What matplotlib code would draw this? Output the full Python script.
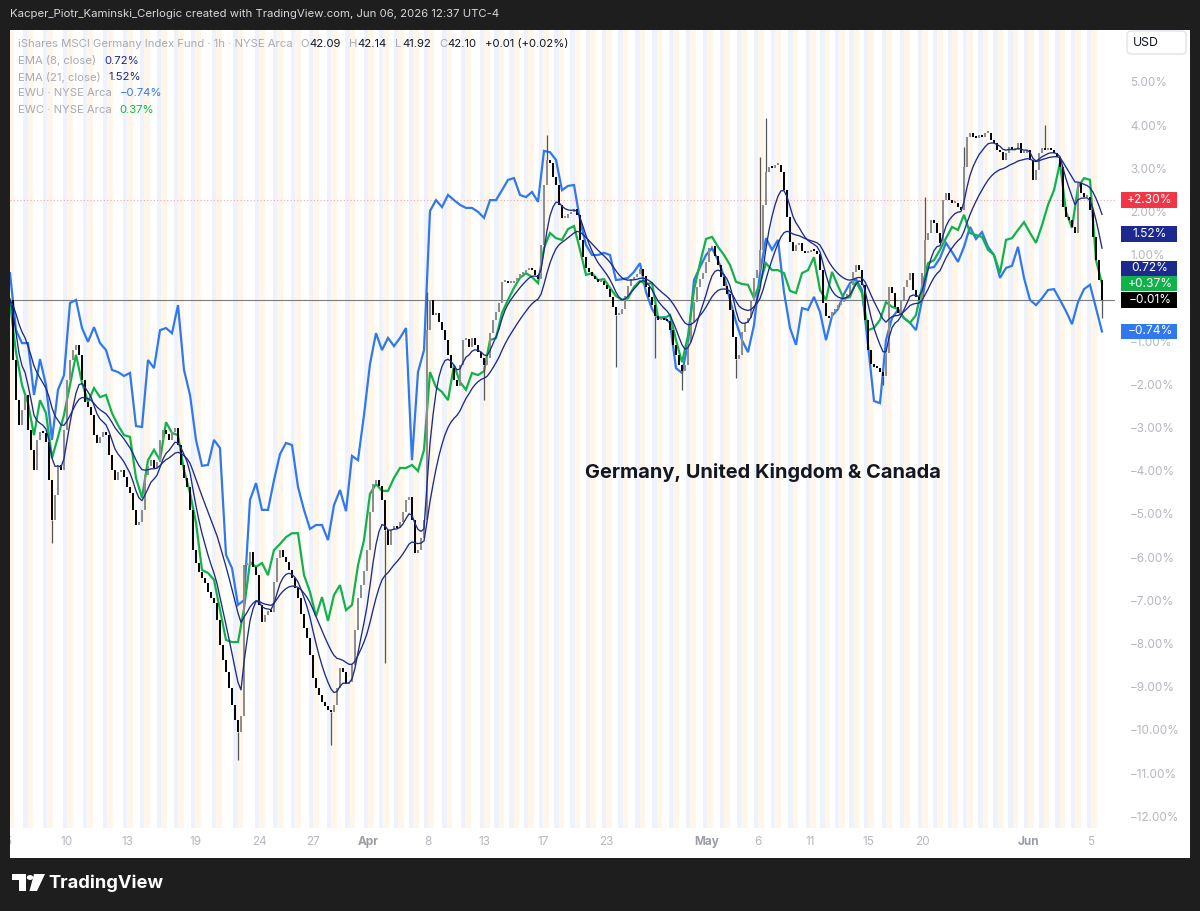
import numpy as np
import pandas as pd
import matplotlib
matplotlib.use("Agg")
import matplotlib.pyplot as plt
from matplotlib.patches import Rectangle, FancyBboxPatch, Polygon, Circle
from matplotlib.transforms import blended_transform_factory

# ---------------- data (percent change, TradingView % scale) ----------------
ewg_close = [
    -0.01, -1.40, -2.33, -2.91, -2.56, -2.21, -3.02, -3.48, -3.95, -3.25,
    -3.07, -3.09, -3.30, -4.18, -5.10, -4.53, -3.83, -3.95, -3.02, -1.86,
    -1.40, -1.17, -1.05, -1.28, -1.86, -2.37, -2.49, -2.67, -3.14, -3.32,
    -3.18, -3.07, -3.14, -3.60, -3.95, -4.18, -3.99, -3.95, -4.11, -4.34,
    -4.48, -4.87, -5.22, -5.15, -4.87, -4.06, -3.85, -3.72, -3.90, -3.76,
    -3.25, -3.02, -3.11, -3.25, -3.07, -2.97, -3.37, -3.83, -4.13, -4.34,
    -4.87, -5.80, -6.10, -6.31, -6.45, -6.56, -6.77, -6.91, -7.03, -7.42,
    -8.00, -8.35, -8.62, -8.99, -9.39, -9.73, -10.01, -9.64, -6.15, -6.15,
    -5.84, -6.19, -6.38, -7.07, -7.47, -7.30, -7.21, -7.23, -6.54, -5.98,
    -5.80, -5.96, -6.08, -6.26, -6.45, -6.68, -6.91, -7.28, -7.60, -7.84,
    -8.23, -8.76, -8.99, -9.16, -9.32, -9.41, -9.50, -9.55, -9.39, -8.99,
    -8.53, -8.62, -8.90, -8.85, -8.46, -7.65, -6.91, -6.61, -6.28, -5.80,
    -4.92, -4.27, -4.18, -4.32, -4.64, -5.34, -5.68, -5.34, -5.24, -5.29,
    -5.15, -4.92, -4.64, -4.57, -5.10, -5.87, -5.80, -5.52, -5.10, -0.71,
    -0.01, -0.36, -0.31, -0.52, -0.71, -0.94, -1.28, -1.59, -1.86, -2.00,
    -1.52, -0.94, -0.91, -1.10, -0.89, -1.05, -1.22, -1.35, -1.52, -1.35,
    -0.78, -0.47, -0.29, -0.08, 0.41, 0.43, 0.38, 0.38, 0.43, 0.50,
    0.59, 0.64, 0.68, 0.73, 0.68, 0.57, 0.47, 1.26, 2.65, 3.23,
    3.16, 2.84, 2.65, 2.19, 1.89, 1.89, 1.98, 2.03, 2.09, 1.96,
    1.38, 0.98, 0.73, 0.64, 0.54, 0.47, 0.41, 0.43, 0.34, 0.24,
    0.06, -0.17, -0.36, -0.34, -0.22, 0.08, 0.31, 0.47, 0.52, 0.59,
    0.71, 0.54, 0.29, 0.06, -0.13, -0.38, -0.47, -0.43, -0.47, -0.50,
    -0.71, -1.05, -1.28, -1.52, -1.66, -1.52, -0.98, -0.52, -0.06, 0.29,
    0.47, 0.61, 0.87, 1.19, 1.24, 1.01, 0.80, 0.52, 0.31, 0.13,
    -0.24, -0.87, -1.38, -1.28, -0.75, -0.54, -0.43, -0.01, 0.50, 0.68,
    1.15, 2.19, 2.95, 3.07, 3.04, 3.11, 3.11, 2.95, 2.53, 1.91,
    1.33, 1.12, 1.26, 1.31, 1.12, 1.08, 1.10, 1.15, 1.12, 1.05,
    0.68, -0.08, -0.38, -0.43, -0.29, -0.22, -0.13, -0.06, 0.01, 0.13,
    0.34, 0.64, 0.80, 0.68, 0.34, -0.47, -1.17, -1.49, -1.56, -1.59,
    -1.68, -1.77, -1.24, 0.29, 0.15, -0.17, -0.31, -0.01, 0.29, 0.45,
    0.61, 0.22, 0.06, -0.01, 0.61, 1.38, 1.54, 1.84, 1.77, 1.54,
    1.31, 2.30, 2.47, 2.30, 2.23, 2.23, 2.14, 2.07, 3.07, 3.76,
    3.85, 3.76, 3.74, 3.81, 3.76, 3.85, 3.85, 3.69, 3.62, 3.46,
    3.41, 3.23, 3.39, 3.53, 3.46, 3.46, 3.62, 3.39, 3.39, 3.46,
    3.23, 2.77, 3.00, 3.39, 3.51, 3.46, 3.51, 3.46, 3.39, 3.30,
    3.07, 2.14, 1.91, 1.84, 1.68, 1.54, 2.70, 2.47, 2.37, 2.37,
    2.07, 1.45, 0.91, 0.45, -0.01,
]
ewg_wick_high = {139: 0.17, 179: 3.81, 250: 3.30, 252: 4.20, 305: 2.37, 318: 3.53, 345: 4.04}
ewg_wick_low = {14: -5.64, 76: -10.66, 107: -10.31, 125: -8.41, 158: -2.33, 202: -1.56,
                215: -1.35, 224: -2.09, 242: -1.82, 291: -1.98, 364: -0.43}

ewu_pct = [
    0.61, -0.71, -1.01, -1.01, -2.21, -1.38, -1.98, -3.25, -2.09, -1.75,
    -0.08, -0.01, -0.66, -0.98, -0.64, -1.01, -1.17, -1.63, -1.68, -1.77,
    -1.70, -2.93, -2.95, -1.40, -1.59, -0.71, -0.66, -0.78, -0.13, -1.63,
    -2.21, -3.25, -3.85, -3.83, -3.25, -3.44, -5.91, -6.22, -7.07, -6.96,
    -4.64, -4.25, -4.87, -4.87, -4.18, -3.58, -3.32, -3.37, -4.34, -4.87,
    -5.31, -5.22, -5.22, -5.57, -4.76, -4.41, -4.90, -3.62, -3.72, -2.67,
    -1.49, -0.78, -1.17, -0.89, -1.08, -0.89, -0.66, -3.72, -1.68, -1.17,
    2.05, 2.30, 2.14, 2.42, 2.30, 2.19, 2.12, 2.12, 2.03, 1.89,
    2.30, 2.30, 2.53, 2.77, 2.81, 2.42, 2.37, 2.49, 2.26, 3.44,
    3.41, 3.23, 2.53, 2.63, 2.65, 1.84, 1.26, 1.03, 1.03, 1.08,
    1.03, 0.45, 0.47, 0.50, 0.64, 0.84, 0.17, -0.22, -0.43, -0.41,
    -0.54, -1.59, -1.70, -1.01, 0.45, 0.75, 1.03, 1.19, 0.91, 0.54,
    -0.01, -0.52, -0.94, -1.22, -0.59, 0.61, 1.42, 1.15, 1.38, 0.17,
    -0.66, -1.05, -0.20, -0.24, 0.06, -0.29, -0.94, -0.38, -0.22, 0.13,
    0.38, 0.47, 0.22, -1.05, -2.35, -2.40, -0.94, -0.43, -0.24, -0.43,
    -0.54, -0.71, -0.01, 0.73, 0.75, 0.96, 1.31, 1.10, 0.87, 1.22,
    1.68, 1.40, 1.56, 1.22, 1.03, 0.50, 0.73, 0.78, 1.22, 0.50,
    -0.01, -0.13, 0.03, 0.22, 0.24, -0.01, -0.27, -0.57, -0.06, 0.24,
    0.34, -0.20, -0.74,
]

ewc_pct = [
    -0.08, -1.22, -1.98, -2.40, -3.14, -2.33, -2.63, -3.67, -3.18, -2.67,
    -1.98, -1.28, -1.93, -2.37, -2.05, -2.26, -2.21, -2.63, -2.91, -3.14,
    -3.18, -4.13, -4.59, -3.72, -3.48, -3.72, -2.84, -3.09, -3.14, -3.95,
    -4.48, -5.17, -6.26, -6.33, -6.49, -7.19, -7.88, -7.93, -7.93, -7.16,
    -6.08, -6.19, -6.10, -6.38, -5.80, -5.66, -5.50, -5.41, -5.41, -6.38,
    -6.77, -7.33, -6.89, -7.44, -6.84, -6.61, -7.19, -7.07, -6.15, -5.57,
    -4.50, -4.27, -4.43, -4.43, -4.13, -3.90, -3.90, -3.83, -3.97, -3.48,
    -1.68, -2.03, -2.14, -2.33, -1.52, -1.91, -2.09, -1.70, -1.75, -1.66,
    -0.94, -0.89, -0.31, -0.01, 0.27, 0.50, 0.61, 0.52, 0.38, 1.19,
    1.54, 1.42, 1.38, 1.63, 1.70, 1.15, 0.57, 0.61, 0.45, 0.47,
    0.27, 0.08, -0.01, 0.03, 0.29, 0.43, 0.36, 0.38, -0.41, -0.43,
    -0.36, -0.94, -1.45, -0.84, 0.22, 0.84, 1.40, 1.45, 1.22, 1.03,
    0.80, 0.41, 0.36, 0.34, 0.03, 0.38, 0.84, 0.68, 0.68, 0.61,
    0.20, 0.15, 0.61, 0.68, 0.98, 0.22, -0.01, 0.64, 0.31, 0.01,
    0.06, 0.41, 0.15, -0.71, -0.66, -0.47, -0.06, -0.17, -0.22, -0.43,
    -0.54, -0.36, 0.29, 0.84, 0.91, 1.15, 1.42, 1.68, 1.61, 1.96,
    1.54, 1.49, 1.45, 1.15, 1.03, 0.61, 1.38, 1.42, 1.61, 1.79,
    1.54, 1.31, 1.72, 2.19, 2.53, 3.16, 2.03, 1.66, 2.60, 2.81,
    2.77, 0.91, 0.37,
]

time_labels = ['5', '10', '13', '19', '24', '27', 'Apr', '8', '13', '17', '23',
               'May', '6', '11', '15', '20', 'Jun', '5']
month_labels = {'Apr', 'May', 'Jun'}
label_day_index = [0, 3, 6, 10, 13, 16, 19, 23, 26, 30, 34, 40, 43, 46, 50, 53, 60, 64]
n_trading_days = 65
price_ticks = [5, 4, 3, 2, 1, -1, -2, -3, -4, -5, -6, -7, -8, -9, -10, -11, -12]
badge_values = [2.30, 1.52, 0.72, 0.37, -0.01, -0.74]
badge_texts = ['+2.30%', '1.52%', '0.72%', '+0.37%', '\u22120.01%', '\u22120.74%']
header = "Kacper_Piotr_Kaminski_Cerlogic created with TradingView.com, Jun 06, 2026 12:37 UTC-4"
title = "Germany, United Kingdom & Canada"
symbol_desc = "iShares MSCI Germany Index Fund \u00b7 1h \u00b7 NYSE Arca"
ohlc_keys = ['O', 'H', 'L', 'C']
ohlc_vals = ['42.09', '42.14', '41.92', '42.10']
change_txt = '+0.01 (+0.02%)'
legend_names = ['EMA (8, close)', 'EMA (21, close)', 'EWU \u00b7 NYSE Arca', 'EWC \u00b7 NYSE Arca']
legend_vals = ['0.72%', '1.52%', '\u22120.74%', '0.37%']

# ---------------- style / layout ----------------
W, H = 1200, 911
FONT = ['Inter', 'DejaVu Sans']
DARK = '#1e1e1e'
C_RED, C_NAVY, C_GREEN, C_BLUE = '#f23645', '#1b2a8c', '#12b24b', '#2f78ee'
C_AXT = '#b4b7bf'
C_LEG = '#a7aab2'
ORANGE_BG, BLUE_BG = '#fff5e8', '#edf2fd'
PX_L, PX_R, PX_T, PX_B = 10, 1115, 30, 828
STEP = 3.0            # pixels per candle slot
Y0, PPP = 299.5, 43.2  # pixel of 0 %, pixels per 1 %
label_px = [8, 67, 127, 195, 259, 313, 368, 428, 484, 543, 606, 707, 758, 810, 868, 922, 1028, 1091]

def fx(px): return px / W
def fy(py): return 1 - py / H
def to_x(px): return (px - PX_L) / STEP

fig = plt.figure(figsize=(W / 100, H / 100), dpi=100, facecolor=DARK)
fig.add_artist(Rectangle((fx(10), fy(858)), fx(1190) - fx(10), fy(30) - fy(858),
                         transform=fig.transFigure, facecolor='white', edgecolor='none', zorder=-2))

ax = fig.add_axes([fx(PX_L), fy(PX_B), fx(PX_R) - fx(PX_L), fy(PX_T) - fy(PX_B)])
ax.set_facecolor('white')
for s in ax.spines.values():
    s.set_visible(False)
ax.set_xticks([]); ax.set_yticks([])
ax.set_xlim(0, to_x(PX_R))
ax.set_ylim((Y0 - PX_B) / PPP, (Y0 - PX_T) / PPP)

# session shading
day_px = np.interp(np.arange(n_trading_days), label_day_index, label_px)
for p in day_px:
    ax.axvspan(to_x(p - 4.5), to_x(p), color=BLUE_BG, lw=0, zorder=0)
    ax.axvspan(to_x(p), to_x(p + 5.5), color=ORANGE_BG, lw=0, zorder=0)

# reference lines
ax.axhline(badge_values[0], color='#f4a3ab', lw=0.8, ls=(0, (1, 2)), zorder=1)
ax.axhline(0, color='#7d7d7d', lw=0.8, zorder=1)

# compare series
x_line = np.arange(len(ewu_pct)) * 2
ax.plot(x_line, ewu_pct, color=C_BLUE, lw=1.6, zorder=3, solid_joinstyle='miter')
x_line2 = np.arange(len(ewc_pct)) * 2
ax.plot(x_line2, ewc_pct, color=C_GREEN, lw=1.6, zorder=3.5, solid_joinstyle='miter')

# candles
close = np.array(ewg_close)
openp = np.concatenate([[close[0]], close[:-1]])
xc = np.arange(len(close))
up = close >= openp
bottom = np.minimum(openp, close)
height = np.maximum(np.abs(close - openp), 0.05)
for k, v in ewg_wick_high.items():
    ax.vlines(k, max(openp[k], close[k]), v, color='#555555', lw=0.9, zorder=4)
for k, v in ewg_wick_low.items():
    ax.vlines(k, v, min(openp[k], close[k]), color='#555555', lw=0.9, zorder=4)
ax.bar(xc[up], height[up], bottom=bottom[up], width=0.9, color='#8e8e8e', lw=0, zorder=4.2)
ax.bar(xc[~up], height[~up], bottom=bottom[~up], width=0.9, color='#050505', lw=0, zorder=4.2)

# EMAs
cs = pd.Series(close)
ax.plot(xc, cs.ewm(span=8, adjust=False).mean(), color=C_NAVY, lw=0.95, zorder=5)
ax.plot(xc, cs.ewm(span=21, adjust=False).mean(), color=C_NAVY, lw=0.95, zorder=5)

fig.canvas.draw()
renderer = fig.canvas.get_renderer()

def text_w(s, fs, weight='normal'):
    t = fig.text(0, 0, s, fontsize=fs, family=FONT, fontweight=weight)
    w = t.get_window_extent(renderer).width
    t.remove()
    return w

def fit(s, target, weight='normal'):
    return 10 * target / text_w(s, 10, weight)

# header
fs_head = fit(header, 493)
fig.text(fx(10), fy(14), header, color='#d6d8de', fontsize=fs_head, family=FONT, va='center', ha='left')

# legend
fs_leg = fit(symbol_desc, 276)

def put_seq(x, y, pieces, fs):
    for s, c, gap in pieces:
        t = fig.text(fx(x), fy(y), s, color=c, fontsize=fs, family=FONT, va='center', ha='left')
        x += t.get_window_extent(renderer).width + gap

pieces = [(symbol_desc, C_LEG, 8)]
for k, v in zip(ohlc_keys, ohlc_vals):
    pieces += [(k, C_LEG, 0.5), (v, '#131722', 8)]
pieces += [(change_txt, '#131722', 0)]
put_seq(18, 44, pieces, fs_leg)
val_colors = [C_NAVY, C_NAVY, C_BLUE, C_GREEN]
for i, (nm, vv, cc) in enumerate(zip(legend_names, legend_vals, val_colors)):
    put_seq(18, 61 + 16.2 * i, [(nm, C_LEG, 8), (vv, cc, 0)], fs_leg)

# title
fs_title = fit(title, 355, 'bold')
fig.text(fx(763), fy(473), title, color='#131722', fontsize=fs_title, family=FONT,
         fontweight='bold', ha='center', va='center')

# price axis
tr = blended_transform_factory(fig.transFigure, ax.transData)
fs_ax = fit('\u221210.00%', 50)
for v in price_ticks:
    s = f"{v:.2f}%".replace('-', '\u2212')
    ax.text(fx(1130), v, s, transform=tr, color=C_AXT, fontsize=fs_ax, family=FONT,
            ha='left', va='center', clip_on=False)

badge_colors = [C_RED, C_NAVY, C_NAVY, C_GREEN, '#000000', C_BLUE]
bh = 15.5 / PPP
for v, s, c in zip(badge_values, badge_texts, badge_colors):
    ax.add_patch(Rectangle((fx(1121), v - bh / 2), fx(1177) - fx(1121), bh, transform=tr,
                           facecolor=c, edgecolor='none', clip_on=False, zorder=6))
    ax.text(fx(1150), v, s, transform=tr, color='white', fontsize=fs_ax * 1.02, family=FONT,
            ha='center', va='center', clip_on=False, zorder=7)

# USD box
fig.add_artist(FancyBboxPatch((fx(1127), fy(54)), fx(1186) - fx(1127), fy(31) - fy(54),
                              boxstyle='round,pad=0,rounding_size=0.004', transform=fig.transFigure,
                              facecolor='white', edgecolor='#e0e3eb', lw=1))
fig.text(fx(1133), fy(43), 'USD', color='#131722', fontsize=fs_ax * 1.05, family=FONT, ha='left', va='center')

# time axis
for s, p in zip(time_labels, label_px):
    bold = s in month_labels
    fig.text(fx(p), fy(842), s, color='#9a9da6' if bold else C_AXT, fontsize=fs_ax,
             fontweight='bold' if bold else 'normal', family=FONT, ha='center', va='center', zorder=1)

# dark border overlay on left edge
fig.add_artist(Rectangle((0, 0), fx(10), 1, transform=fig.transFigure, facecolor=DARK,
                         edgecolor='none', zorder=20))

# TradingView logo
LOGO = '#ffffff'
fig.add_artist(Rectangle((fx(12), fy(880)), fx(26) - fx(12), fy(874) - fy(880), transform=fig.transFigure,
                         facecolor=LOGO, edgecolor='none'))
fig.add_artist(Rectangle((fx(19), fy(891)), fx(26) - fx(19), fy(874) - fy(891), transform=fig.transFigure,
                         facecolor=LOGO, edgecolor='none'))
fig.add_artist(Polygon([(fx(34), fy(874)), (fx(45), fy(874)), (fx(37), fy(891)), (fx(29.5), fy(891))],
                       closed=True, transform=fig.transFigure, facecolor=LOGO, edgecolor='none'))
fig.add_artist(Circle((fx(30), fy(877.5)), 3.2 / W, transform=fig.transFigure, facecolor=LOGO, edgecolor='none'))
fs_logo = fit('TradingView', 115, 'bold')
fig.text(fx(48), fy(883), 'TradingView', color=LOGO, fontsize=fs_logo, fontweight='bold', family=FONT,
         ha='left', va='center')

fig.savefig('out.png', dpi=100, facecolor=DARK)
